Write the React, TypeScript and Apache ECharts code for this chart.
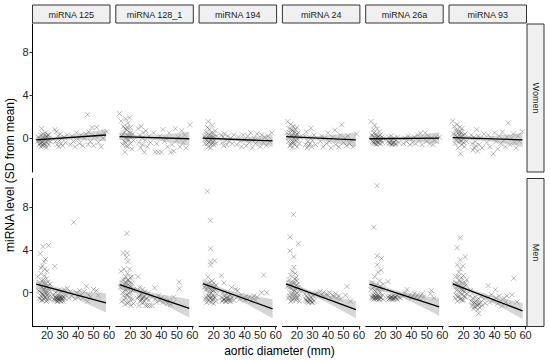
import React, { useEffect, useRef } from 'react';
import * as echarts from 'echarts';

const FONT = '"Liberation Sans", Arial, sans-serif';

const COLS = ['miRNA 125', 'miRNA 128_1', 'miRNA 194', 'miRNA 24', 'miRNA 26a', 'miRNA 93'];
const ROWS = ['Women', 'Men'];
const X_TICKS = [20, 30, 40, 50, 60];
const Y_TICKS = [0, 4, 8];

// ---- Women points [aortic diameter, miRNA level] ----
const w125 = [[14,-0.3],[14.5,0.1],[15,-0.6],[15.5,-0.2],[16,0.3],[16,-0.8],[16.5,0.9],[17,-0.4],[17,0.0],[17.5,-0.7],[18,0.2],[18,-0.2],[18.5,-0.5],[19,0.5],[19,-0.1],[19.5,-0.9],[20,0.1],[20,-0.4],[20.5,0.3],[21,-0.6],[21.5,0.0],[22,-0.3],
[15,0.0],[15.5,-0.5],[16.5,-0.1],[17,-0.6],[17.5,0.4],[18,-0.5],[18.5,0.0],[19,-0.7],[19.5,0.2],[20.5,-0.2],[21,0.3],[16,-0.4],
[25,0.8],[25.5,-0.3],[26,0.6],[26.5,-0.6],[27,0.2],[27.5,-0.8],[28,-0.2],[28.5,0.4],[29,-0.5],[29.5,0.0],[30,-0.7],[31,0.1],[32,-0.4],[33,0.3],
[35,-0.6],[36,0.2],[37,-0.3],[38,-0.8],[39,0.5],[40,-0.1],[41,-0.5],[42,0.3],[43,-0.7],[44,0.0],[45,0.4],[46,2.2],[46.5,-0.6],[47,0.6],[48,-0.3],[49,1.0],[50,-0.7],[51,0.2],[52,1.0],[53,-0.4],[54,0.3],[55,-0.8],[56,0.0],[57,0.5],[58.5,0.6]];
const w128_1 = [[13,2.3],[14,1.6],[14.5,0.2],[15,-0.6],[15.5,1.1],[16,0.5],[16,-0.3],[16.5,-1.3],[17,1.8],[17,0.0],[17.5,0.8],[18,-0.8],[18,0.3],[18.5,1.4],[19,-0.2],[19,0.6],[19.5,1.9],[20,-0.5],[20,1.0],[20.5,0.2],[21,-1.0],[21.5,0.4],[22,-0.2],
[15,0.4],[16.5,0.9],[17,-0.4],[18,1.0],[18.5,-0.1],[19,0.2],[20,0.5],[17.5,-0.7],
[25,0.9],[25.5,-0.4],[26,0.3],[26.5,-0.9],[27,1.1],[27.5,0.0],[28,-0.6],[28.5,0.5],[29,-1.3],[29.5,-0.2],[30,0.7],[31,-0.8],[32,0.2],[33,-0.4],
[35,0.5],[36,-1.3],[37,-0.5],[38,-1.3],[39,0.2],[40,-1.3],[41,0.8],[42,-0.3],[43,0.0],[44,-0.8],[45,0.5],[46,-1.3],[47,-0.6],[48,-1.2],[49,0.9],[50,-0.2],[51,0.1],[52,-0.8],[53,0.7],[54,-0.4],[55,0.3],[56,-0.9],[58.5,1.25]];
const w194 = [[14,0.2],[14.5,-0.5],[15,0.6],[15.5,-0.2],[16,1.0],[16.5,1.55],[16.5,-0.8],[17,0.3],[17,-0.4],[17.5,0.8],[18,0.0],[18,-0.9],[18.5,0.5],[19,-0.3],[19,1.2],[19.5,0.1],[20,-0.6],[20,0.4],[20.5,-0.2],[21,0.7],[21.5,-0.5],[22,0.2],
[15,-0.1],[15.5,0.3],[16,-0.5],[17,0.0],[17.5,-0.3],[18,0.3],[18.5,-0.6],[19,0.0],[19.5,-0.4],[20.5,0.1],
[25,0.3],[25.5,-0.4],[26,0.1],[26.5,-0.7],[27,0.4],[28,-0.2],[28.5,-0.6],[29,0.2],[30,-0.3],[31,0.0],[32,-0.5],[33,0.3],
[35,-0.6],[36,0.1],[37,-0.3],[38,-0.8],[39,0.3],[40,-0.1],[41,-0.7],[42,0.2],[43,-0.4],[44,0.5],[45,-0.9],[46,0.0],[47,-0.5],[48,0.4],[49,-0.2],[50,-0.8],[51,0.3],[52,-0.4],[53,0.1],[54,-0.7],[55,0.2],[56,-0.3],[57.5,0.5]];
const w24 = [[13.5,0.5],[14,1.55],[14.5,-0.3],[15,0.9],[15.5,-0.7],[16,1.3],[16,0.2],[16.5,-0.4],[17,0.7],[17,-0.9],[17.5,1.1],[18,0.0],[18,0.4],[18.5,-0.6],[19,0.8],[19,-0.2],[19.5,0.3],[20,-0.8],[20,1.0],[20.5,-0.1],[21,0.5],[21.5,-0.5],[22,0.1],
[15,0.1],[15.5,0.5],[16.5,0.8],[17,0.2],[17.5,-0.3],[18,-0.4],[18.5,0.6],[19,0.1],[20,0.4],[16,-0.6],
[25,0.2],[25.5,-0.6],[26,0.6],[26.5,-0.9],[27,-0.3],[27.5,-0.7],[28,0.1],[28.5,-0.5],[29,0.93],[29.5,-0.8],[30,-0.2],[31,0.3],[32,-0.6],
[35,-0.3],[36,0.2],[37,-0.8],[38,0.0],[39,-0.5],[40,0.5],[41,-0.3],[42,-0.9],[43,0.1],[44.5,0.75],[45,-0.6],[46,-0.1],[47,-0.8],[48,0.3],[48.8,1.25],[50,-0.4],[51,0.0],[52,-0.7],[53,0.2],[54,-0.5],[55,-0.2],[56,-0.8],[58.5,0.4]];
const w26a = [[14,1.55],[14.5,0.3],[15,-0.3],[15.5,0.8],[16,-0.5],[16,0.1],[16.5,1.2],[17,-0.2],[17,0.4],[17.5,-0.6],[18,0.0],[18,0.9],[18.5,-0.4],[19,0.2],[19,-0.1],[19.5,0.6],[20,-0.5],[20,0.3],[20.5,-0.2],[21,0.1],[21.5,-0.4],[22,0.0],
[15,0.2],[15.5,-0.4],[16,0.5],[16.5,-0.3],[17,0.0],[17.5,0.2],[18,-0.3],[18.5,0.1],[19,-0.5],[19.5,-0.2],[20,0.0],[17,-0.5],
[25,-0.3],[25.5,0.1],[26,-0.5],[26.5,-0.2],[27,0.2],[27.5,-0.6],[28,-0.1],[28.5,-0.4],[29,0.0],[29.5,-0.6],[30,-0.2],[31,0.1],[32,-0.4],
[26,-0.4],[27,-0.5],[28,-0.5],[29,-0.4],[30,-0.5],
[35,-0.5],[36,0.0],[37,-0.3],[38,0.2],[39,-0.6],[40,-0.1],[41,-0.4],[42,0.1],[43,-0.5],[44,0.3],[45,-0.2],[46,0.45],[47,-0.6],[48,0.0],[49,0.5],[50,-0.3],[51,0.2],[52,-0.5],[53,0.0],[54,-0.6],[55,-0.2],[56,0.1],[58.2,0.1]];
const w93 = [[13,1.6],[13.5,0.4],[14,1.1],[14.5,-0.5],[15,0.8],[15.5,-0.2],[16,1.3],[16,0.1],[16.5,-0.9],[17,0.6],[17,-0.4],[17.5,1.0],[18,0.2],[18,-1.45],[18.5,0.5],[19,-0.6],[19,0.9],[19.5,-0.1],[20,0.3],[20.5,-0.8],[21,0.4],[22,-0.3],
[15,0.3],[15.5,0.6],[16.5,0.0],[17,0.3],[17.5,-0.2],[18,0.6],[18.5,-0.3],[19,0.2],[20,-0.4],
[25,0.3],[25.5,-0.5],[26,-1.1],[26.5,0.1],[27,-0.9],[27.5,-0.3],[28.5,0.8],[28,-0.7],[29,-1.2],[29.5,0.2],[30,-0.6],[31,0.0],[32,-0.9],[33,0.4],
[35,-0.4],[36,0.3],[37,-0.8],[38,0.0],[39.2,-1.45],[40,0.5],[41,-0.3],[42,-1.0],[43,0.2],[44,-0.5],[45,0.6],[46,-0.2],[47,-0.8],[48,0.1],[48.9,1.43],[50,-0.6],[51,0.0],[52.1,0.4],[53,-0.4],[54,-0.9],[55,0.2],[56,-0.3],[58,0.6]];

// ---- Men points ----
const m125 = [[14,1.5],[14.5,0.2],[15,-0.5],[15.6,3.65],[15.5,0.8],[16,-0.3],[16,1.8],[16.5,0.0],[16.5,-0.7],[17,2.5],[17,0.5],[17.4,4.3],[17.5,-0.2],[17.5,1.2],[18,2.9],[18,-0.6],[18,0.3],[18.5,1.6],[18.5,-0.4],[19,0.9],[19,3.1],[19,-0.1],[19.5,0.6],[19.5,-0.8],[20,2.0],[20,0.1],[20.5,-0.5],[20.5,1.0],[21,4.4],[21,0.4],[21.5,-0.3],[22,0.8],[22,-0.6],
[15,0.1],[15.5,-0.6],[16,0.6],[16.5,1.1],[17,-0.1],[17,-0.7],[17.5,0.3],[18,0.9],[18,-0.3],[18.5,0.1],[19,-0.5],[19,0.4],[19.5,1.3],[20,-0.2],[20,-0.7],[20.5,0.6],[21,-0.1],[21.5,0.2],[16,2.3],[18.5,2.2],
[24,-0.2],[24.5,-0.6],[25,2.45],[25,-0.4],[25.5,0.0],[26,-0.7],[26,-0.3],[26.5,-0.5],[27,-0.8],[27,0.2],[27.5,-0.4],[28,-0.6],[28,-0.2],[28.5,-0.7],[29,-0.4],[29,0.1],[29.5,-0.6],[30,-0.3],[30.5,-0.8],[31,0.3],[31.5,-0.5],[32,-0.2],[33,0.4],
[25,-0.7],[25.5,-0.5],[26,-0.5],[26.5,-0.8],[27,-0.6],[27.5,-0.7],[28,-0.5],[28.5,-0.4],[29,-0.8],[29.5,-0.5],[30,-0.6],[30.5,-0.4],
[34,-0.5],[35,0.1],[36,-0.3],[37.2,6.57],[38,-0.6],[39,0.0],[40,-0.4],[41,0.2],[42,-0.2],[43,-0.5],[44,0.1],[45.4,0.6],[46,-0.8],[47,-0.2],[48,-0.4],[50,0.3],[51.8,0.2],[53,-0.25]];
const m128_1 = [[13.5,0.5],[14,2.0],[14.5,-0.8],[15,1.2],[15.5,3.7],[15.5,-0.3],[16,0.8],[16,2.2],[16.5,-1.1],[16.5,0.2],[17,1.5],[17,-0.5],[17.5,3.3],[17.5,0.9],[17.8,5.53],[18,3.7],[18,-0.2],[18,1.8],[18.5,2.9],[18.5,0.4],[19,-0.9],[19,1.1],[19.5,2.2],[19.5,-0.4],[20,0.6],[20,1.4],[20.5,-1.2],[20.5,0.0],[21,0.9],[21.5,-0.6],[22,0.3],[22,-1.0],
[15,0.0],[15.5,0.6],[16,-0.7],[16.5,1.3],[17,0.3],[17.5,-0.2],[18,0.7],[18.5,1.2],[19,0.0],[19.5,0.9],[20,-0.6],[20.5,0.5],[21,1.5],[21.5,0.2],[18,-1.0],[17,1.0],
[24.9,1.5],[24.5,-0.5],[25,0.2],[25.5,-1.2],[26,-0.3],[26,0.5],[26.5,-0.8],[27,-0.1],[27.5,-0.6],[28,0.3],[28,-1.0],[28.5,-0.4],[29,-0.8],[29.5,0.1],[30,-1.2],[30.5,-0.5],[31,-1.2],[31.5,0.0],[32,-0.7],[32.5,-1.2],[33,-0.3],[34,-1.2],
[25.5,-0.4],[26.5,-0.2],[27,-0.7],[28,-0.5],[29,-0.3],[30,-0.6],
[35.7,0.46],[36,-0.6],[37,-0.9],[38,-0.3],[39,-0.7],[40,-0.5],[41,-0.9],[42,-0.6],[43,-0.8],[44,-1.0],[45,-0.7],[46,-1.1],[47.8,-0.4],[48,-0.9],[51.5,1.0],[51.7,0.37]];
const m194 = [[14,0.5],[14.5,-0.6],[15,0.2],[15.5,-0.9],[16,9.46],[16,0.8],[16.3,1.47],[16.5,-0.3],[17,0.4],[17,-0.8],[17.5,1.0],[17.9,6.75],[18,4.1],[18,2.88],[18,2.58],[18,-0.5],[18.5,0.6],[18.5,0.0],[19,-0.7],[19,1.1],[19.5,-0.2],[19.5,0.5],[20,-1.0],[20,0.9],[20.6,2.98],[20.5,-0.4],[21,0.3],[21.5,-0.8],[21.5,0.7],[22,-0.1],
[15,-0.4],[15.5,0.4],[16,-0.6],[16.5,0.6],[17,0.0],[17.5,-0.5],[18,0.3],[18.5,-0.9],[19,0.2],[19.5,-0.6],[20,0.2],[20.5,0.5],[21,-0.5],[17,-0.3],[19,-0.4],
[24.9,1.6],[25,-0.4],[25.5,-0.8],[26,0.0],[26.6,0.92],[26.5,-0.6],[27,-0.3],[27.5,-0.8],[28,-0.5],[28.5,-0.1],[29,-0.7],[29.5,-0.4],[30,-0.8],[30.5,-0.2],[31,-0.6],[31.6,0.5],[32,-0.4],[33,-0.7],[34,0.3],[35.4,0.2],
[26,-0.7],[27,-0.6],[28,-0.8],[29,-0.5],[30,-0.6],[31,-0.8],
[36,-0.3],[37,-0.6],[38,-0.2],[39,-0.5],[40,-0.7],[41,-0.3],[42,-0.6],[43,-0.4],[44,-0.8],[45,-0.5],[46,-0.3],[47,-0.7],[48,-0.4],[51,0.0],[52.2,1.66],[54.3,0.0]];
const m24 = [[14,0.6],[14.5,-0.5],[15,1.2],[15.6,5.19],[15.6,3.9],[15.5,0.0],[16,-0.8],[16,1.6],[16.5,0.4],[17,-0.3],[17,2.0],[17.5,0.9],[17.7,7.28],[18,3.35],[18,2.36],[18,-0.6],[18.5,1.3],[18.5,0.2],[19,-0.2],[19,1.8],[19.5,0.7],[19.5,-0.7],[20,1.1],[20,0.0],[20.9,4.57],[20.5,-0.4],[21,0.5],[21.5,-0.8],[22,0.2],
[15,-0.3],[15.5,0.5],[16,0.9],[16.5,-0.5],[17,0.6],[17.5,-0.1],[18,1.0],[18.5,-0.4],[19,0.4],[19.5,1.4],[20,-0.5],[20.5,0.8],[21,-0.2],[17,-0.7],[18,0.1],
[25,-0.1],[25.5,-0.6],[26,-0.3],[26.5,-0.8],[27,-0.5],[27.5,-0.9],[28,-0.2],[28.5,-0.7],[29,-0.4],[29.5,-0.9],[30,-0.6],[30.5,-0.3],[31,-0.8],[32,-0.1],[33,0.0],[34,-0.3],
[26,-0.7],[27,-0.8],[28,-0.6],[29,-0.8],[30,-0.9],
[35,0.1],[36,-0.2],[37,0.0],[38,-0.4],[39,-0.1],[40,-0.3],[41,0.0],[42,-0.5],[43,-0.2],[44,-0.4],[45,-0.1],[46,-0.5],[47,-0.3],[48,-0.6],[51.2,-0.25],[52.2,0.58],[54.5,-0.8]];
const m26a = [[14,0.3],[14.5,-0.4],[15,0.9],[15.5,-0.2],[15.8,6.11],[16,0.5],[16,-0.6],[16.5,1.5],[17,0.1],[17,-0.5],[17.5,0.7],[18,9.98],[18,3.44],[18,2.6],[18,-0.3],[18.5,0.4],[18.5,1.9],[19,-0.6],[19,0.2],[19.5,1.1],[19.5,-0.4],[20,0.0],[20,0.6],[20.7,3.19],[20.5,2.1],[20.5,-0.5],[21,0.3],[21.5,-0.2],[22,0.8],[22,-0.6],
[15,-0.5],[15.5,-0.4],[16,-0.3],[16.5,-0.5],[17,-0.4],[17.5,-0.6],[18,-0.5],[18.5,-0.4],[19,-0.3],[19.5,-0.6],[20,-0.4],[16.5,0.2],[17.5,-0.2],
[25,1.04],[25,-0.4],[25.5,-0.6],[26,-0.3],[26.5,-0.5],[27,-0.6],[27.5,-0.4],[28,-0.5],[28.5,-0.3],[29,-0.6],[29.5,-0.4],[30,-0.5],[30.5,-0.3],[31,-0.6],[32,-0.4],[33,-0.5],[34,-0.2],
[26,-0.5],[27,-0.4],[28,-0.6],[29,-0.5],[30,-0.4],
[35,-0.3],[36,0.0],[37.3,0.3],[38,-0.4],[39,-0.2],[40,-0.5],[41,-0.3],[42,-0.1],[43,-0.4],[44,-0.2],[45,-0.5],[46,-0.3],[47,-0.1],[48,-0.4],[52.4,-0.1],[53,0.2],[54.6,-0.5]];
const m93 = [[14,0.8],[14.5,-0.5],[15,1.5],[15.5,0.2],[15.8,4.2],[16,-0.8],[16,2.6],[16.5,0.6],[17,1.9],[17,-0.3],[17.5,1.1],[17.9,5.12],[18,3.07],[18,0.0],[18,2.2],[18.5,-0.6],[18.5,1.4],[19,0.4],[19,-0.2],[19.5,2.5],[19.5,0.9],[20,-0.7],[20,1.6],[20.5,0.1],[21.1,3.35],[21,-0.4],[21.5,0.7],[22,-0.1],[22,1.2],
[15,-0.2],[15.5,0.9],[16,0.3],[16.5,-0.4],[17,0.7],[17.5,-0.6],[18,1.0],[18.5,0.3],[19,-0.7],[19.5,0.2],[20,0.5],[20.5,-0.3],[21,0.9],[16.5,1.5],
[24,-0.3],[24.5,0.2],[25,-0.8],[25.5,-1.2],[26,-0.5],[26.5,-1.5],[27,-0.9],[27.5,-0.4],[28,-1.3],[28.5,-0.7],[29,-1.6],[29.8,-1.94],[29.5,-1.0],[30,-0.6],[30.5,-1.4],[31,-0.9],[31.5,-0.3],[32,-1.2],[33,-0.6],[34,-1.0],
[26,-0.9],[27,-1.3],[28,-1.0],[29,-1.2],[30,-1.1],
[35.8,0.67],[36,-0.4],[37,-0.9],[38,-0.2],[39,-0.7],[40.5,0.28],[41,-0.5],[42,-1.0],[43,-0.3],[44,-0.8],[45,-1.2],[46,-0.5],[47,-0.9],[48,-0.3],[49,-1.1],[51.3,-0.2],[52.4,1.35],[54.5,-0.87]];

const POINTS = [[w125, w128_1, w194, w24, w26a, w93], [m125, m128_1, m194, m24, m26a, m93]];

// ---- Regression lines: values at x = 13 and x = 58 ----
const LINE_X = [13, 58];
const lineWomen = [[-0.15, 0.3], [0.15, -0.05], [0.0, -0.25], [0.15, -0.15], [-0.05, 0.0], [0.05, -0.15]];
const lineMen = [[0.8, -0.95], [0.75, -1.45], [0.85, -1.5], [0.83, -1.57], [0.8, -1.33], [0.83, -1.7]];
const LINES = [lineWomen, lineMen];

// ---- Confidence bands ----
const BAND_X = [13, 20, 28, 36, 44, 51, 58];
const lowerWomen = [
  [-0.47,-0.28,-0.15,-0.12,-0.17,-0.22,-0.28],
  [-0.2,-0.10,-0.09,-0.17,-0.36,-0.52,-0.70],
  [-0.25,-0.19,-0.20,-0.30,-0.46,-0.63,-0.80],
  [-0.2,-0.1,-0.1,-0.22,-0.44,-0.62,-0.82],
  [-0.3,-0.19,-0.15,-0.19,-0.32,-0.43,-0.55],
  [-0.3,-0.2,-0.19,-0.27,-0.46,-0.62,-0.82],
];
const upperWomen = [
  [0.17,0.12,0.15,0.28,0.49,0.68,0.88],
  [0.5,0.34,0.25,0.27,0.38,0.48,0.60],
  [0.25,0.11,0.04,0.04,0.12,0.21,0.30],
  [0.5,0.3,0.2,0.22,0.32,0.42,0.52],
  [0.2,0.11,0.09,0.15,0.28,0.41,0.55],
  [0.4,0.24,0.15,0.17,0.28,0.38,0.52],
];
const lowerMen = [
  [0.35,0.25,0.0,-0.39,-0.91,-1.38,-1.85],
  [0.30,0.13,-0.20,-0.67,-1.27,-1.79,-2.30],
  [0.40,0.20,-0.15,-0.65,-1.27,-1.83,-2.40],
  [0.41,0.20,-0.17,-0.68,-1.27,-1.82,-2.37],
  [0.38,0.21,-0.11,-0.57,-1.12,-1.62,-2.18],
  [0.41,0.18,-0.21,-0.74,-1.33,-1.88,-2.45],
];
const upperMen = [
  [1.25,0.81,0.44,0.21,0.09,0.02,-0.05],
  [1.20,0.69,0.24,-0.07,-0.27,-0.43,-0.60],
  [1.30,0.76,0.29,-0.05,-0.27,-0.43,-0.60],
  [1.25,0.72,0.23,-0.12,-0.37,-0.58,-0.77],
  [1.22,0.73,0.29,-0.01,-0.22,-0.38,-0.48],
  [1.25,0.70,0.19,-0.18,-0.49,-0.72,-0.95],
];
const LOWER = [lowerWomen, lowerMen];
const UPPER = [upperWomen, upperMen];

const X_PATH = 'path://M0,0L10,10M10,0L0,10';

export default function App() {
  const ref = useRef<HTMLDivElement>(null);
  useEffect(() => {
    const chart = echarts.init(ref.current as HTMLDivElement, null, { renderer: 'svg' });
    const grid: any[] = [];
    const xAxis: any[] = [];
    const yAxis: any[] = [];
    const series: any[] = [];
    const graphic: any[] = [];
    const PW = 77.5;
    const PH = 148;
    const TOPS = [24, 178.5];
    const lefts = COLS.map((_, c) => 32.5 + c * 83.3);

    for (let r = 0; r < 2; r++) {
      for (let c = 0; c < 6; c++) {
        const idx = r * 6 + c;
        grid.push({ left: lefts[c], top: TOPS[r], width: PW, height: PH, containLabel: false });
        xAxis.push({
          type: 'value', gridIndex: idx, min: 10.6, max: 60.6, show: r === 1,
          axisLine: { show: true, onZero: false, lineStyle: { color: '#000', width: 1 } },
          axisTick: { show: true, length: 3, customValues: X_TICKS, lineStyle: { color: '#333' } },
          axisLabel: { customValues: X_TICKS, fontSize: 11, color: '#262626', margin: 3, fontFamily: FONT },
          splitLine: { show: false },
        });
        yAxis.push({
          type: 'value', gridIndex: idx, min: -3.15, max: 10.65, show: c === 0,
          axisLine: { show: true, onZero: false, lineStyle: { color: '#000', width: 1 } },
          axisTick: { show: true, length: 3, customValues: Y_TICKS, lineStyle: { color: '#333' } },
          axisLabel: { customValues: Y_TICKS, fontSize: 11, color: '#262626', margin: 4, fontFamily: FONT },
          splitLine: { show: false },
        });
        series.push({
          type: 'scatter', xAxisIndex: idx, yAxisIndex: idx, data: POINTS[r][c],
          symbol: X_PATH, symbolSize: 5, silent: true, z: 2,
          itemStyle: { color: 'none', borderColor: 'rgba(40,40,40,0.5)', borderWidth: 0.8 },
        });
        const lo = LOWER[r][c];
        const up = UPPER[r][c];
        series.push({
          type: 'custom', xAxisIndex: idx, yAxisIndex: idx, silent: true, z: 3,
          data: [[BAND_X[0], lo[0]]],
          renderItem: (_p: any, api: any) => {
            const pts: number[][] = [];
            BAND_X.forEach((x, k) => pts.push(api.coord([x, up[k]])));
            for (let k = BAND_X.length - 1; k >= 0; k--) pts.push(api.coord([BAND_X[k], lo[k]]));
            return { type: 'polygon', shape: { points: pts }, style: { fill: 'rgba(153,153,153,0.4)' } };
          },
        });
        const ln = LINES[r][c];
        series.push({
          type: 'line', xAxisIndex: idx, yAxisIndex: idx, silent: true, z: 4,
          data: [[LINE_X[0], ln[0]], [LINE_X[1], ln[1]]],
          symbol: 'none', lineStyle: { color: '#000', width: 1.3 },
        });
      }
    }

    // column strips
    COLS.forEach((name, c) => {
      graphic.push({
        type: 'rect', shape: { x: lefts[c], y: 5, width: PW, height: 18 },
        style: { fill: '#f0f0f0', stroke: '#333', lineWidth: 1 },
      });
      graphic.push({
        type: 'text', x: lefts[c] + PW / 2, y: 14.5,
        style: { text: name, fontSize: 9, fill: '#1a1a1a', fontFamily: FONT, align: 'center', verticalAlign: 'middle' },
      });
    });
    // row strips
    ROWS.forEach((name, r) => {
      graphic.push({
        type: 'rect', shape: { x: 527, y: TOPS[r], width: 17, height: PH },
        style: { fill: '#f0f0f0', stroke: '#333', lineWidth: 1 },
      });
      graphic.push({
        type: 'text', x: 535.5, y: TOPS[r] + PH / 2, rotation: -Math.PI / 2,
        style: { text: name, fontSize: 9, fill: '#1a1a1a', fontFamily: FONT, align: 'center', verticalAlign: 'middle' },
      });
    });
    // axis titles
    graphic.push({
      type: 'text', x: 279.5, y: 351,
      style: { text: 'aortic diameter (mm)', fontSize: 12, fill: '#000', fontFamily: FONT, align: 'center', verticalAlign: 'middle' },
    });
    graphic.push({
      type: 'text', x: 10, y: 175, rotation: Math.PI / 2,
      style: { text: 'miRNA level (SD from mean)', fontSize: 12, fill: '#000', fontFamily: FONT, align: 'center', verticalAlign: 'middle' },
    });

    chart.setOption({
      animation: false,
      backgroundColor: '#fff',
      grid, xAxis, yAxis, series, graphic,
    });
    return () => chart.dispose();
  }, []);
  return <div ref={ref} style={{ position: 'fixed', left: 0, top: 0, width: 550, height: 360 }} />;
}
